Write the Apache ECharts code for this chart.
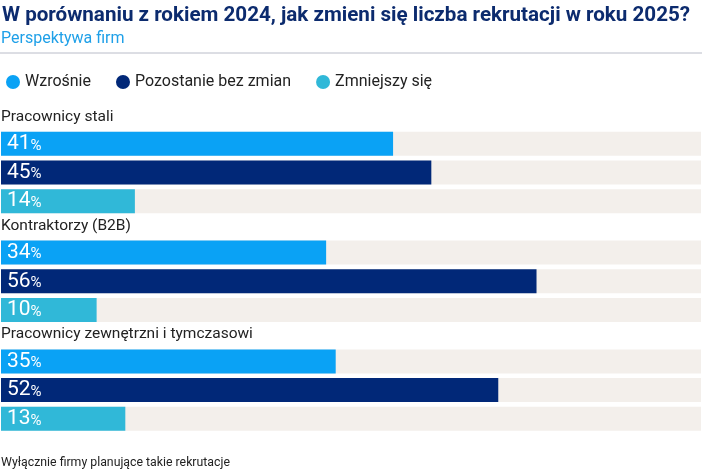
<!DOCTYPE html>
<html><head><meta charset="utf-8">
<script src="https://cdn.jsdelivr.net/npm/echarts@6/dist/echarts.min.js"></script>
<style>html,body{margin:0;padding:0;background:#fff}#c{width:702px;height:472px}</style>
</head><body><div id="c"></div>
<script>
const groups = ['Pracownicy stali', 'Kontraktorzy (B2B)', 'Pracownicy zewnętrzni i tymczasowi'];
const seriesNames = ['Wzrośnie', 'Pozostanie bez zmian', 'Zmniejszy się'];
const wzrosnie = [41, 34, 35];
const pozostanie = [45, 56, 52];
const zmniejszy = [14, 10, 13];
const colors = ['#0aa2f5', '#012878', '#30b8d8'];
const values = [wzrosnie, pozostanie, zmniejszy];

const F = 'Roboto, "Noto Sans", sans-serif';
const chart = echarts.init(document.getElementById('c'), null, {renderer: 'canvas'});
const grids = [], xAxes = [], yAxes = [], series = [], graphics = [];
groups.forEach((g, i) => {
  const top = 129.5 + 108.8 * i;
  grids.push({left: 1, right: 1, top: top, height: 86});
  xAxes.push({gridIndex: i, type: 'value', min: 0, max: 73.2, show: false});
  yAxes.push({gridIndex: i, type: 'category', data: [g], inverse: true, show: false});
  graphics.push({type: 'text', left: 1, top: top - 20.5, style: {text: g, font: '15.5px ' + F, fill: '#222'}});
  seriesNames.forEach((s, k) => {
    series.push({
      name: s, type: 'bar', xAxisIndex: i, yAxisIndex: i,
      data: [values[k][i]], barWidth: 24, barGap: '19.6%',
      itemStyle: {color: colors[k]},
      showBackground: true, backgroundStyle: {color: '#f3efeb'},
      label: {show: true, position: 'insideLeft', distance: 6,
        formatter: '{a|{c}}{b|%}',
        rich: {a: {fontSize: 21, color: '#fff', fontFamily: F}, b: {fontSize: 15, color: '#fff', fontFamily: F, padding: [4, 0, 0, 0]}}},
      emphasis: {disabled: true}, animation: false
    });
  });
});
graphics.push({type: 'line', shape: {x1: 0, y1: 53, x2: 702, y2: 53}, style: {stroke: '#b9bcc8', lineWidth: 1}});
graphics.push({type: 'text', left: 1, top: 457, style: {text: 'Wyłącznie firmy planujące takie rekrutacje', font: '12.3px ' + F, fill: '#222'}});

chart.setOption({
  animation: false,
  title: [
    {text: 'W porównaniu z rokiem 2024, jak zmieni się liczba rekrutacji w roku 2025?', left: -3, top: 0,
      textStyle: {fontFamily: F, fontSize: 20.6, fontWeight: 'bold', color: '#0c2b6e'}},
    {text: 'Perspektywa firm', left: -4, top: 26, textStyle: {fontFamily: F, fontSize: 16, fontWeight: 'normal', color: '#1fa0e8'}}
  ],
  legend: {data: seriesNames, left: 1, top: 69, icon: 'circle', itemWidth: 14, itemHeight: 14, itemGap: 25,
    textStyle: {fontFamily: F, fontSize: 16, color: '#222'}, selectedMode: false},
  grid: grids, xAxis: xAxes, yAxis: yAxes, series: series, graphic: graphics
});
</script></body></html>
